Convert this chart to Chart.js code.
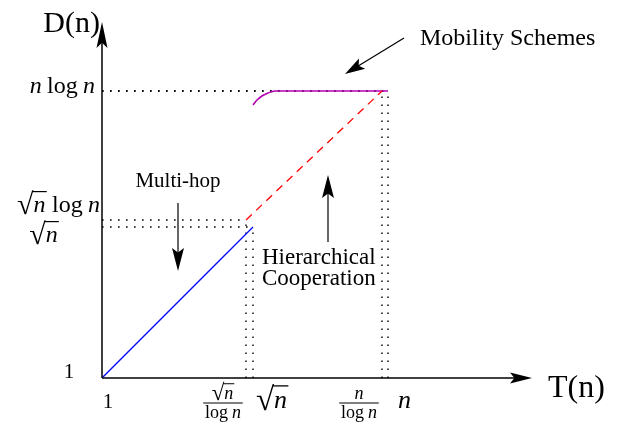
<!DOCTYPE html>
<html>
<head>
<meta charset="utf-8">
<script src="https://cdn.jsdelivr.net/npm/chart.js@4"></script>
<style>
  html, body { margin: 0; padding: 0; background: #fff; }
  #wrap { width: 624px; height: 424px; }
</style>
</head>
<body>
<div id="wrap"><canvas id="chart" width="624" height="424"></canvas></div>
<script>
// schematic units: T(n) along x, D(n) along y
const multiHopT = [0, 151];
const multiHopD = [0, 151];
const hierT = [144, 280];
const hierD = [158, 287];
const mobilityT = [151, 155, 160, 166, 173, 286];
const mobilityD = [273, 278, 282, 285, 287, 287];

// dotted guides: [T, D] corners
const guideT = [144, 151, 280, 286];
const guideD = [158, 151, 287, 287];

const tTickValues = [0, 144, 151, 280, 286];
const tTickLabels = ['1', 'frac:√n', '√n', 'frac:n', 'n'];
const dTickValues = [0, 151, 158, 287];
const dTickLabels = ['1', '√n', '√n log n', 'n log n'];

const T_MAX = 430;
const D_MAX = 356;

const SERIF = '"Liberation Serif", "DejaVu Serif", serif';

function pts(xs, ys) {
    return xs.map((x, i) => ({ x: x, y: ys[i] }));
}

// dotted guide lines built from the corner arrays
const guideSets = [];
guideT.forEach((t, i) => {
    const d = guideD[i];
    guideSets.push(pts([0, t], [d, d]));
    guideSets.push(pts([t, t], [0, d]));
});

const datasets = [
    { data: pts(multiHopT, multiHopD), borderColor: '#0000ff', borderWidth: 1.3 },
    { data: pts(hierT, hierD), borderColor: '#ff0000', borderWidth: 1.3, borderDash: [8, 6] },
    { data: pts(mobilityT, mobilityD), borderColor: '#b400b4', borderWidth: 1.6, cubicInterpolationMode: 'monotone' }
].concat(guideSets.map(p => ({
    data: p, borderColor: '#000', borderWidth: 1.4, borderDash: [1.6, 6.4]
})));

// --- small helpers for the math-ish labels ---
function fontOf(size, italic) {
    return (italic ? 'italic ' : '') + size + 'px ' + SERIF;
}

function tokens(str) {
    return str.match(/√n|log|n|1| /g) || [];
}

// radical drawn a bit larger than the text, like TeX
function tokWidth(ctx, tk, size) {
    if (tk === ' ') return size * 0.22;
    if (tk === 'n') { ctx.font = fontOf(size, true); return ctx.measureText('n').width; }
    if (tk === '√n') {
        ctx.font = fontOf(Math.round(size * 1.25), false);
        const r = ctx.measureText('√').width;
        ctx.font = fontOf(size, true);
        return r + ctx.measureText('n').width + size * 0.05;
    }
    ctx.font = fontOf(size, false);
    return ctx.measureText(tk).width;
}

function mathWidth(ctx, str, size) {
    return tokens(str).reduce((s, tk) => s + tokWidth(ctx, tk, size), 0);
}

function drawMath(ctx, str, x, y, size, align) {
    const w = mathWidth(ctx, str, size);
    let cx = align === 'right' ? x - w : align === 'center' ? x - w / 2 : x;
    ctx.fillStyle = '#000';
    ctx.textAlign = 'left';
    ctx.textBaseline = 'alphabetic';
    tokens(str).forEach(tk => {
        const tw = tokWidth(ctx, tk, size);
        if (tk === 'n') {
            ctx.font = fontOf(size, true);
            ctx.fillText('n', cx, y);
        } else if (tk === '√n') {
            ctx.font = fontOf(Math.round(size * 1.25), false);
            const r = ctx.measureText('√').width;
            ctx.fillText('√', cx, y + size * 0.08);
            ctx.font = fontOf(size, true);
            ctx.fillText('n', cx + r, y);
            ctx.strokeStyle = '#000';
            ctx.lineWidth = Math.max(1, size * 0.05);
            ctx.beginPath();
            ctx.moveTo(cx + r - size * 0.06, y - size * 0.85);
            ctx.lineTo(cx + tw, y - size * 0.85);
            ctx.stroke();
        } else if (tk !== ' ') {
            ctx.font = fontOf(size, false);
            ctx.fillText(tk, cx, y);
        }
        cx += tw;
    });
}

function drawFrac(ctx, num, x, barY, size) {
    const wn = mathWidth(ctx, num, size);
    const wd = mathWidth(ctx, 'log n', size);
    const w = Math.max(wn, wd) + size * 0.2;
    ctx.strokeStyle = '#000';
    ctx.lineWidth = 1;
    ctx.beginPath();
    ctx.moveTo(x - w / 2, barY);
    ctx.lineTo(x + w / 2, barY);
    ctx.stroke();
    drawMath(ctx, num, x, barY - size * 0.22, size, 'center');
    drawMath(ctx, 'log n', x, barY + size * 0.82, size, 'center');
}

function drawArrow(ctx, x1, y1, x2, y2, headLen, headW, lw) {
    const a = Math.atan2(y2 - y1, x2 - x1);
    const c = Math.cos(a), s = Math.sin(a);
    ctx.strokeStyle = '#000';
    ctx.fillStyle = '#000';
    ctx.lineWidth = lw;
    ctx.beginPath();
    ctx.moveTo(x1, y1);
    ctx.lineTo(x2 - c * headLen * 0.7, y2 - s * headLen * 0.7);
    ctx.stroke();
    const bx = x2 - c * headLen, by = y2 - s * headLen;
    const ix = x2 - c * headLen * 0.8, iy = y2 - s * headLen * 0.8;
    ctx.beginPath();
    ctx.moveTo(x2, y2);
    ctx.lineTo(bx - s * headW / 2, by + c * headW / 2);
    ctx.lineTo(ix, iy);
    ctx.lineTo(bx + s * headW / 2, by - c * headW / 2);
    ctx.closePath();
    ctx.fill();
}

const annotations = {
    id: 'annotations',
    afterDraw(chart) {
        const ctx = chart.ctx;
        const X = v => chart.scales.x.getPixelForValue(v);
        const Y = v => chart.scales.y.getPixelForValue(v);
        ctx.save();

        // axes with arrow heads
        drawArrow(ctx, X(0), Y(0), X(0), Y(D_MAX), 26, 11, 1.5);
        drawArrow(ctx, X(0), Y(0), X(T_MAX), Y(0), 22, 11, 1.5);

        // axis titles
        ctx.fillStyle = '#000';
        ctx.textBaseline = 'alphabetic';
        ctx.font = '30px ' + SERIF;
        ctx.textAlign = 'right';
        ctx.fillText('D(n)', X(-2), Y(346));
        ctx.font = '32px ' + SERIF;
        ctx.textAlign = 'left';
        ctx.fillText('T(n)', X(446), Y(-19));

        // D ticks
        const dOff = [[-33, 0], [-58, -15], [-2, 8], [-7, -2]];
        dTickValues.forEach((v, i) => {
            const lab = dTickLabels[i];
            const px = X(0) + dOff[i][0];
            const py = Y(v) - dOff[i][1];
            if (i === 0) drawMath(ctx, lab, px, py, 21, 'center');
            else if (i === 1) drawMath(ctx, lab, px, py, 24, 'center');
            else drawMath(ctx, lab, px, py, 24, 'right');
        });

        // T ticks
        const tOff = [6, -23, 3, -23, 10];
        tTickValues.forEach((v, i) => {
            const lab = tTickLabels[i];
            const px = X(v) + tOff[i];
            if (lab.startsWith('frac:')) {
                drawFrac(ctx, lab.slice(5), px, Y(0) + 25, 18);
            } else if (i === 0) {
                drawMath(ctx, lab, px, Y(0) + 30, 21, 'center');
            } else {
                drawMath(ctx, lab, px, Y(0) + 30, 26, 'left');
            }
        });

        // callouts
        ctx.font = '24px ' + SERIF;
        ctx.textAlign = 'left';
        ctx.fillText('Mobility Schemes', X(318), Y(333));
        drawArrow(ctx, X(302), Y(340), X(243), Y(304), 20, 12, 1.2);

        ctx.font = '21px ' + SERIF;
        ctx.textAlign = 'center';
        ctx.fillText('Multi-hop', X(76), Y(191));
        drawArrow(ctx, X(76), Y(175), X(76), Y(107), 23, 12, 1.2);

        ctx.font = '23px ' + SERIF;
        ctx.textAlign = 'left';
        ctx.fillText('Hierarchical', X(160), Y(114));
        ctx.fillText('Cooperation', X(160), Y(93));
        drawArrow(ctx, X(226), Y(136), X(226), Y(203), 23, 12, 1.2);

        ctx.restore();
    }
};

new Chart(document.getElementById('chart'), {
    type: 'line',
    data: { datasets: datasets },
    options: {
        responsive: false,
        animation: false,
        events: [],
        layout: { padding: { left: 102, right: 92, top: 22, bottom: 46 } },
        elements: { point: { radius: 0 }, line: { fill: false, tension: 0 } },
        plugins: { legend: { display: false }, tooltip: { enabled: false } },
        scales: {
            x: { type: 'linear', min: 0, max: T_MAX, display: false },
            y: { type: 'linear', min: 0, max: D_MAX, display: false }
        }
    },
    plugins: [annotations]
});
</script>
</body>
</html>
